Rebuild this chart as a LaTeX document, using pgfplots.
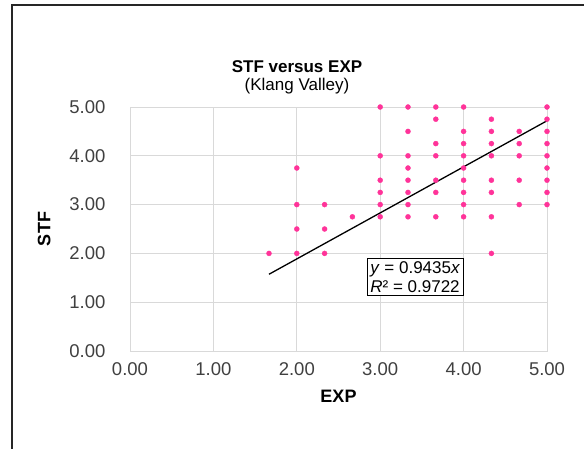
\documentclass[border=0pt]{standalone}
\usepackage{fontspec}
\setmainfont{Liberation Sans}
\usepackage{pgfplots}
\pgfplotsset{compat=1.18}
\definecolor{dotpink}{RGB}{255,51,153}
\definecolor{gridgray}{RGB}{217,217,217}
\definecolor{ticktext}{RGB}{64,64,64}

\begin{document}
\begin{tikzpicture}[x=1pt,y=1pt]
\useasboundingbox (0,0) rectangle (584,448);
% chart frame (runs off the right and bottom edges)
\draw[line width=1.3pt, black!85] (12,-10) -- (12,443) -- (600,443);
\node[font=\fontsize{17}{20}\selectfont\bfseries] at (297,381) {STF versus EXP};
\node[font=\fontsize{17}{20}\selectfont] at (297,362) {(Klang Valley)};

\begin{axis}[
    at={(130pt,97pt)}, anchor=south west,
    scale only axis,
    width=417pt, height=244pt,
    xmin=0, xmax=5, ymin=0, ymax=5,
    xtick={0,1,...,5}, ytick={0,1,...,5},
    grid=major,
    major grid style={draw=gridgray, line width=1pt},
    axis line style={draw=gridgray, line width=1pt},
    major tick length=0pt,
    /pgf/number format/assume math mode=true,
    /pgf/number format/.cd, fixed, fixed zerofill, precision=2,
    /pgfplots/.cd,
    ticklabel style={font=\fontsize{18.5}{21}\selectfont, text=ticktext},
    xticklabel style={yshift=-8pt},
    yticklabel style={xshift=-21pt},
    xlabel={EXP}, ylabel={STF},
    label style={font=\fontsize{18}{21}\selectfont\bfseries},
    xlabel style={at={(axis description cs:0.5,-0.185)}, anchor=center},
    ylabel style={at={(axis description cs:-0.206,0.5)}, anchor=center, rotate=0},
    clip=false,
]
\addplot[only marks, mark=*, mark size=2.5pt,
         mark options={solid, draw=dotpink, fill=dotpink, line width=0.4pt}] table {
x y
1.6667 2.00
2.0000 2.00
2.0000 2.50
2.0000 3.00
2.0000 3.75
2.3333 2.00
2.3333 2.50
2.3333 3.00
2.6667 2.75
3.0000 5.00
3.0000 4.00
3.0000 3.50
3.0000 3.25
3.0000 3.00
3.0000 2.75
3.3333 5.00
3.3333 4.50
3.3333 4.00
3.3333 3.75
3.3333 3.50
3.3333 3.25
3.3333 3.00
3.3333 2.75
3.6667 5.00
3.6667 4.75
3.6667 4.25
3.6667 4.00
3.6667 3.50
3.6667 3.25
3.6667 2.75
4.0000 5.00
4.0000 4.50
4.0000 4.25
4.0000 4.00
4.0000 3.75
4.0000 3.50
4.0000 3.25
4.0000 3.00
4.0000 2.75
4.3333 4.75
4.3333 4.50
4.3333 4.25
4.3333 4.00
4.3333 3.50
4.3333 3.25
4.3333 2.75
4.3333 2.00
4.6667 4.50
4.6667 4.25
4.6667 4.00
4.6667 3.50
4.6667 3.00
5.0000 5.00
5.0000 4.75
5.0000 4.50
5.0000 4.25
5.0000 4.00
5.0000 3.75
5.0000 3.50
5.0000 3.25
5.0000 3.00
};
\addplot[black, line width=1.3pt] coordinates {(1.6667,1.5725) (5,4.7175)};
\node[draw=black, line width=0.9pt, fill=white, align=left, inner sep=3pt,
      font=\fontsize{17}{19}\selectfont] at (axis cs:3.42,1.51)
      {\textit{y} = 0.9435\textit{x}\\\textit{R}² = 0.9722};
\end{axis}
\end{tikzpicture}
\end{document}
